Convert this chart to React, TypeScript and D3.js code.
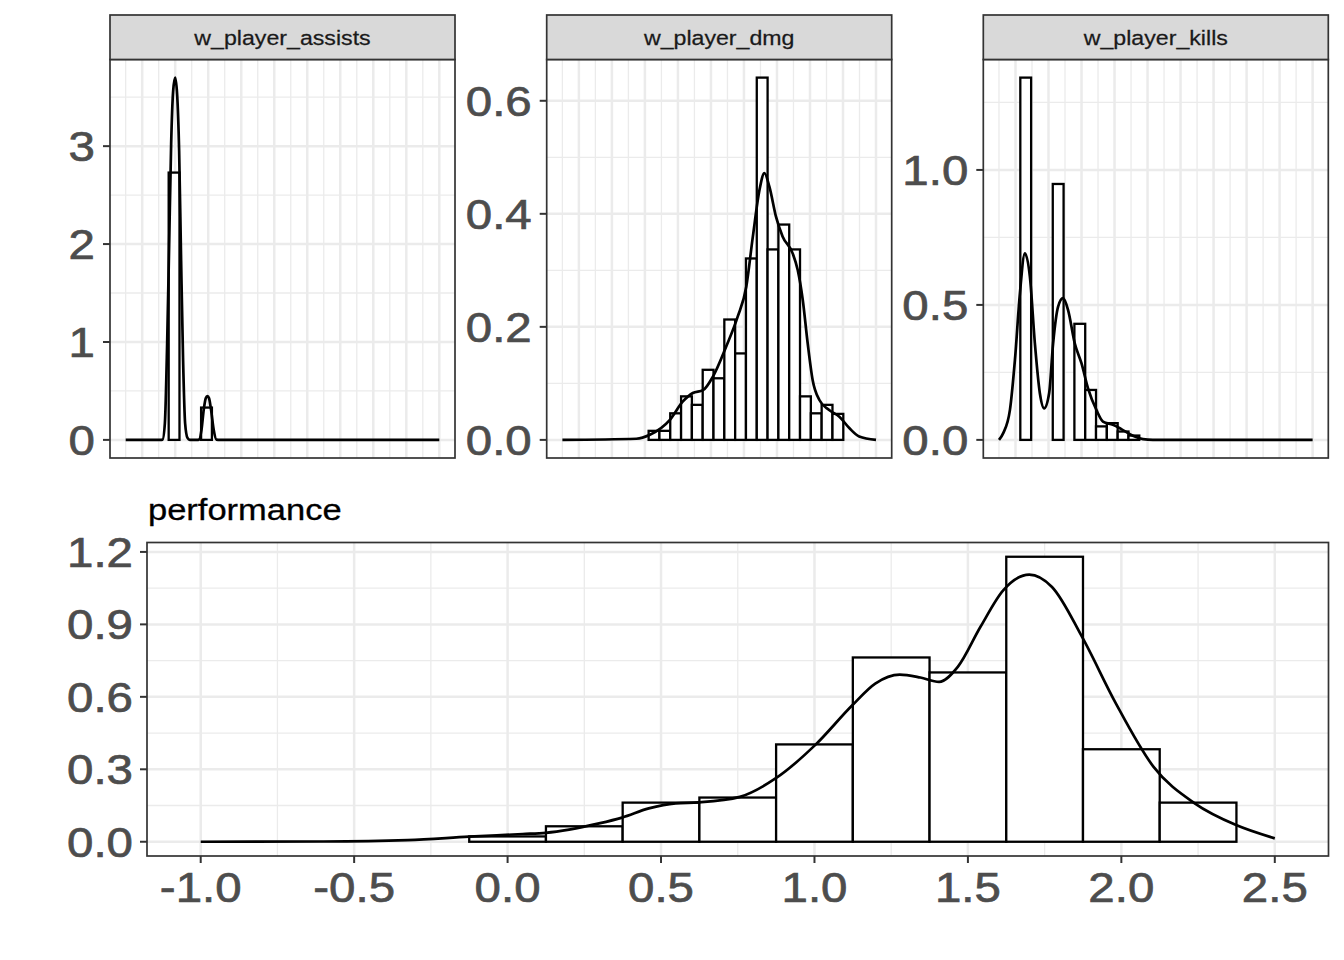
import React from "react";
import * as d3 from "d3";

// ---------------- data ----------------
const facetNames = ["w_player_assists", "w_player_dmg", "w_player_kills"];
const topDataRange: [number, number] = [0.5, 10];
const topBinWidth = 0.3276;
const topMajorX = [1, 2, 3, 4, 5, 6, 7, 8, 9, 10];
const topMinorX = [0.5, 1.5, 2.5, 3.5, 4.5, 5.5, 6.5, 7.5, 8.5, 9.5];

const assistsBinCenters = [1.966, 2.948];
const assistsBinDensity = [2.73, 0.33];
const assistsDensX = [0.5, 1.55, 1.617, 1.687, 1.756, 1.817, 1.877, 1.937, 1.998, 2.058, 2.119, 2.179, 2.239, 2.3, 2.372, 2.442, 2.65, 2.723, 2.795, 2.865, 2.925, 2.977, 3.025, 3.085, 3.167, 3.248, 3.35, 10.0];
const assistsDensY = [0, 0, 0.003, 0.17, 0.985, 2.0, 3.02, 3.56, 3.7, 3.53, 2.95, 1.83, 0.81, 0.17, 0.02, 0, 0, 0.003, 0.1, 0.31, 0.425, 0.448, 0.425, 0.31, 0.1, 0.003, 0, 0];
const assistsYTicks = [0, 1, 2, 3];
const assistsYLabels = ["0", "1", "2", "3"];
const assistsYMinor = [0.5, 1.5, 2.5, 3.5];

const dmgBinCenters = [3.276, 3.603, 3.931, 4.259, 4.586, 4.914, 5.241, 5.569, 5.897, 6.224, 6.552, 6.879, 7.207, 7.534, 7.862, 8.19, 8.517, 8.845];
const dmgBinDensity = [0.016, 0.016, 0.047, 0.077, 0.062, 0.124, 0.109, 0.213, 0.153, 0.321, 0.641, 0.337, 0.381, 0.337, 0.077, 0.047, 0.062, 0.046];
const dmgDensX = [0.5, 2.74, 3.15, 3.75, 4.15, 4.45, 4.76, 5.06, 5.46, 5.81, 6.07, 6.27, 6.47, 6.62, 6.77, 6.97, 7.17, 7.475, 7.63, 7.78, 7.93, 8.08, 8.28, 8.58, 8.89, 9.19, 9.49, 10.0];
const dmgDensY = [0, 0.002, 0.009, 0.035, 0.068, 0.083, 0.088, 0.112, 0.165, 0.218, 0.271, 0.36, 0.442, 0.472, 0.448, 0.395, 0.36, 0.33, 0.3, 0.248, 0.171, 0.106, 0.071, 0.053, 0.041, 0.021, 0.006, 0];
const dmgYTicks = [0, 0.2, 0.4, 0.6];
const dmgYLabels = ["0.0", "0.2", "0.4", "0.6"];
const dmgYMinor = [0.1, 0.3, 0.5];

const killsBinCenters = [1.31, 2.293, 2.948, 3.276, 3.603, 3.931, 4.259, 4.586];
const killsBinDensity = [1.342, 0.948, 0.43, 0.185, 0.05, 0.062, 0.031, 0.016];
const killsDensX = [0.5, 0.629, 0.832, 0.983, 1.134, 1.285, 1.436, 1.587, 1.738, 1.868, 2.019, 2.14, 2.291, 2.442, 2.593, 2.795, 2.998, 3.197, 3.451, 3.65, 3.952, 4.206, 4.557, 4.859, 5.161, 10.0];
const killsDensY = [0, 0.025, 0.111, 0.296, 0.543, 0.691, 0.605, 0.358, 0.173, 0.117, 0.173, 0.358, 0.494, 0.525, 0.481, 0.358, 0.284, 0.191, 0.111, 0.068, 0.056, 0.04, 0.015, 0.003, 0, 0];
const killsYTicks = [0, 0.5, 1.0];
const killsYLabels = ["0.0", "0.5", "1.0"];
const killsYMinor = [0.25, 0.75, 1.25];

const perfTitle = "performance";
const perfDataRange: [number, number] = [-1, 2.5];
const perfBinWidth = 0.25;
const perfBinCenters = [0, 0.25, 0.5, 0.75, 1.0, 1.25, 1.5, 1.75, 2.0, 2.25];
const perfBinDensity = [0.022, 0.064, 0.162, 0.183, 0.403, 0.763, 0.701, 1.18, 0.383, 0.162];
const perfDensX = [-1.0, -0.6, -0.325, -0.126, 0.049, 0.124, 0.298, 0.373, 0.46, 0.548, 0.622, 0.757, 0.873, 1.002, 1.124, 1.198, 1.278, 1.345, 1.406, 1.467, 1.541, 1.615, 1.7, 1.774, 1.872, 1.982, 2.105, 2.239, 2.374, 2.5];
const perfDensY = [0, 0.001, 0.007, 0.021, 0.032, 0.037, 0.076, 0.1, 0.138, 0.159, 0.163, 0.186, 0.262, 0.4, 0.566, 0.655, 0.692, 0.68, 0.662, 0.724, 0.89, 1.041, 1.106, 1.055, 0.848, 0.573, 0.31, 0.159, 0.069, 0.014];
const perfXTicks = [-1, -0.5, 0, 0.5, 1, 1.5, 2, 2.5];
const perfXLabels = ["-1.0", "-0.5", "0.0", "0.5", "1.0", "1.5", "2.0", "2.5"];
const perfXMinor = [-0.75, -0.25, 0.25, 0.75, 1.25, 1.75, 2.25];
const perfYTicks = [0, 0.3, 0.6, 0.9, 1.2];
const perfYLabels = ["0.0", "0.3", "0.6", "0.9", "1.2"];
const perfYMinor = [0.15, 0.45, 0.75, 1.05];

// ---------------- styling / layout ----------------
const FONT = "'Liberation Sans', Arial, Helvetica, sans-serif";
const SX = 1.13;
const GRID = "#EBEBEB";
const BORDER = "#333333";
const AXIS_TEXT = "#4D4D4D";
const AXIS_FS = 42;
const BAR_SW = 2.3;
const DENS_SW = 2.7;

const facets = [
  { name: facetNames[0], binC: assistsBinCenters, binD: assistsBinDensity, dx: assistsDensX, dy: assistsDensY, yt: assistsYTicks, yl: assistsYLabels, ym: assistsYMinor },
  { name: facetNames[1], binC: dmgBinCenters, binD: dmgBinDensity, dx: dmgDensX, dy: dmgDensY, yt: dmgYTicks, yl: dmgYLabels, ym: dmgYMinor },
  { name: facetNames[2], binC: killsBinCenters, binD: killsBinDensity, dx: killsDensX, dy: killsDensY, yt: killsYTicks, yl: killsYLabels, ym: killsYMinor },
];

const TOP = { stripTop: 15, stripBottom: 59.5, bottom: 458, width: 345, lefts: [110, 546.7, 983.3] };
const BOT = { left: 147, right: 1328.5, top: 542.5, bottom: 856 };

function expand(lo: number, hi: number, m = 0.05): [number, number] {
  const d = (hi - lo) * m;
  return [lo - d, hi + d];
}

function SText(props: { x: number; y: number; anchor?: string; size: number; fill: string; sx?: number; weight?: number; children: React.ReactNode }) {
  const { x, y, anchor = "start", size, fill, sx = SX, weight = 0, children } = props;
  return (
    <text
      transform={`translate(${x},${y}) scale(${sx},1)`}
      textAnchor={anchor}
      fontSize={size}
      fill={fill}
      stroke={weight > 0 ? fill : "none"}
      strokeWidth={weight}
      fontFamily={FONT}
    >
      {children}
    </text>
  );
}

function TopPanel({ f, left }: { f: (typeof facets)[number]; left: number }) {
  const right = left + TOP.width;
  const x = d3.scaleLinear().domain(expand(topDataRange[0], topDataRange[1])).range([left, right]);
  const maxY = Math.max(d3.max(f.binD) as number, d3.max(f.dy) as number);
  const y = d3.scaleLinear().domain(expand(0, maxY)).range([TOP.bottom, TOP.stripBottom]);
  const pts = f.dx.map((v, i) => [v, f.dy[i]] as [number, number]);
  const line = d3
    .line<[number, number]>()
    .x((d) => x(d[0]))
    .y((d) => y(d[1]))
    .curve(d3.curveMonotoneX);
  const cx = (left + right) / 2;
  return (
    <g>
      <rect x={left} y={TOP.stripBottom} width={TOP.width} height={TOP.bottom - TOP.stripBottom} fill="white" />
      {topMinorX.map((v) => (
        <line key={"xm" + v} x1={x(v)} x2={x(v)} y1={TOP.stripBottom} y2={TOP.bottom} stroke={GRID} strokeWidth={1.3} />
      ))}
      {f.ym.map((v) => (
        <line key={"ym" + v} x1={left} x2={right} y1={y(v)} y2={y(v)} stroke={GRID} strokeWidth={1.3} />
      ))}
      {topMajorX.map((v) => (
        <line key={"xM" + v} x1={x(v)} x2={x(v)} y1={TOP.stripBottom} y2={TOP.bottom} stroke={GRID} strokeWidth={2.5} />
      ))}
      {f.yt.map((v) => (
        <line key={"yM" + v} x1={left} x2={right} y1={y(v)} y2={y(v)} stroke={GRID} strokeWidth={2.5} />
      ))}
      {f.binC.map((c, i) => (
        <rect
          key={"b" + i}
          x={x(c - topBinWidth / 2)}
          y={y(f.binD[i])}
          width={x(c + topBinWidth / 2) - x(c - topBinWidth / 2)}
          height={y(0) - y(f.binD[i])}
          fill="white"
          stroke="black"
          strokeWidth={BAR_SW}
        />
      ))}
      <path d={line(pts) || ""} fill="none" stroke="black" strokeWidth={DENS_SW} strokeLinejoin="round" />
      <rect x={left} y={TOP.stripBottom} width={TOP.width} height={TOP.bottom - TOP.stripBottom} fill="none" stroke={BORDER} strokeWidth={1.7} />
      <rect x={left} y={TOP.stripTop} width={TOP.width} height={TOP.stripBottom - TOP.stripTop} fill="#D9D9D9" stroke={BORDER} strokeWidth={1.7} />
      <SText x={cx} y={45} anchor="middle" size={20.5} fill="#1A1A1A" weight={0.25}>
        {f.name}
      </SText>
      {f.yt.map((v, i) => (
        <g key={"yt" + v}>
          <line x1={left - 7} x2={left} y1={y(v)} y2={y(v)} stroke={BORDER} strokeWidth={2} />
          <SText x={left - 15} y={y(v) + AXIS_FS * 0.358} anchor="end" size={AXIS_FS} fill={AXIS_TEXT} weight={0.7}>
            {f.yl[i]}
          </SText>
        </g>
      ))}
    </g>
  );
}

function BottomPanel() {
  const { left, right, top, bottom } = BOT;
  const x = d3.scaleLinear().domain(expand(perfDataRange[0], perfDataRange[1])).range([left, right]);
  const maxY = Math.max(d3.max(perfBinDensity) as number, d3.max(perfDensY) as number);
  const y = d3.scaleLinear().domain(expand(0, maxY)).range([bottom, top]);
  const pts = perfDensX.map((v, i) => [v, perfDensY[i]] as [number, number]);
  const line = d3
    .line<[number, number]>()
    .x((d) => x(d[0]))
    .y((d) => y(d[1]))
    .curve(d3.curveMonotoneX);
  return (
    <g>
      <rect x={left} y={top} width={right - left} height={bottom - top} fill="white" />
      {perfXMinor.map((v) => (
        <line key={"xm" + v} x1={x(v)} x2={x(v)} y1={top} y2={bottom} stroke={GRID} strokeWidth={1.3} />
      ))}
      {perfYMinor.map((v) => (
        <line key={"ym" + v} x1={left} x2={right} y1={y(v)} y2={y(v)} stroke={GRID} strokeWidth={1.3} />
      ))}
      {perfXTicks.map((v) => (
        <line key={"xM" + v} x1={x(v)} x2={x(v)} y1={top} y2={bottom} stroke={GRID} strokeWidth={2.5} />
      ))}
      {perfYTicks.map((v) => (
        <line key={"yM" + v} x1={left} x2={right} y1={y(v)} y2={y(v)} stroke={GRID} strokeWidth={2.5} />
      ))}
      {perfBinCenters.map((c, i) => (
        <rect
          key={"b" + i}
          x={x(c - perfBinWidth / 2)}
          y={y(perfBinDensity[i])}
          width={x(c + perfBinWidth / 2) - x(c - perfBinWidth / 2)}
          height={y(0) - y(perfBinDensity[i])}
          fill="white"
          stroke="black"
          strokeWidth={BAR_SW}
        />
      ))}
      <path d={line(pts) || ""} fill="none" stroke="black" strokeWidth={DENS_SW} strokeLinejoin="round" />
      <rect x={left} y={top} width={right - left} height={bottom - top} fill="none" stroke={BORDER} strokeWidth={1.7} />
      {perfYTicks.map((v, i) => (
        <g key={"yt" + v}>
          <line x1={left - 7} x2={left} y1={y(v)} y2={y(v)} stroke={BORDER} strokeWidth={2} />
          <SText x={left - 14} y={y(v) + AXIS_FS * 0.358} anchor="end" size={AXIS_FS} fill={AXIS_TEXT} weight={0.7}>
            {perfYLabels[i]}
          </SText>
        </g>
      ))}
      {perfXTicks.map((v, i) => (
        <g key={"xt" + v}>
          <line x1={x(v)} x2={x(v)} y1={bottom} y2={bottom + 7} stroke={BORDER} strokeWidth={2} />
          <SText x={x(v)} y={901.5} anchor="middle" size={AXIS_FS} fill={AXIS_TEXT} weight={0.7}>
            {perfXLabels[i]}
          </SText>
        </g>
      ))}
      <SText x={148} y={519.5} size={30} fill="#000000" sx={1.15} weight={0.3}>
        {perfTitle}
      </SText>
    </g>
  );
}

export default function App() {
  return (
    <svg
      width={1344}
      height={960}
      viewBox="0 0 1344 960"
      style={{ position: "absolute", left: 0, top: 0, background: "white" }}
    >
      <rect x={0} y={0} width={1344} height={960} fill="white" />
      {facets.map((f, i) => (
        <TopPanel key={f.name} f={f} left={TOP.lefts[i]} />
      ))}
      <BottomPanel />
    </svg>
  );
}
